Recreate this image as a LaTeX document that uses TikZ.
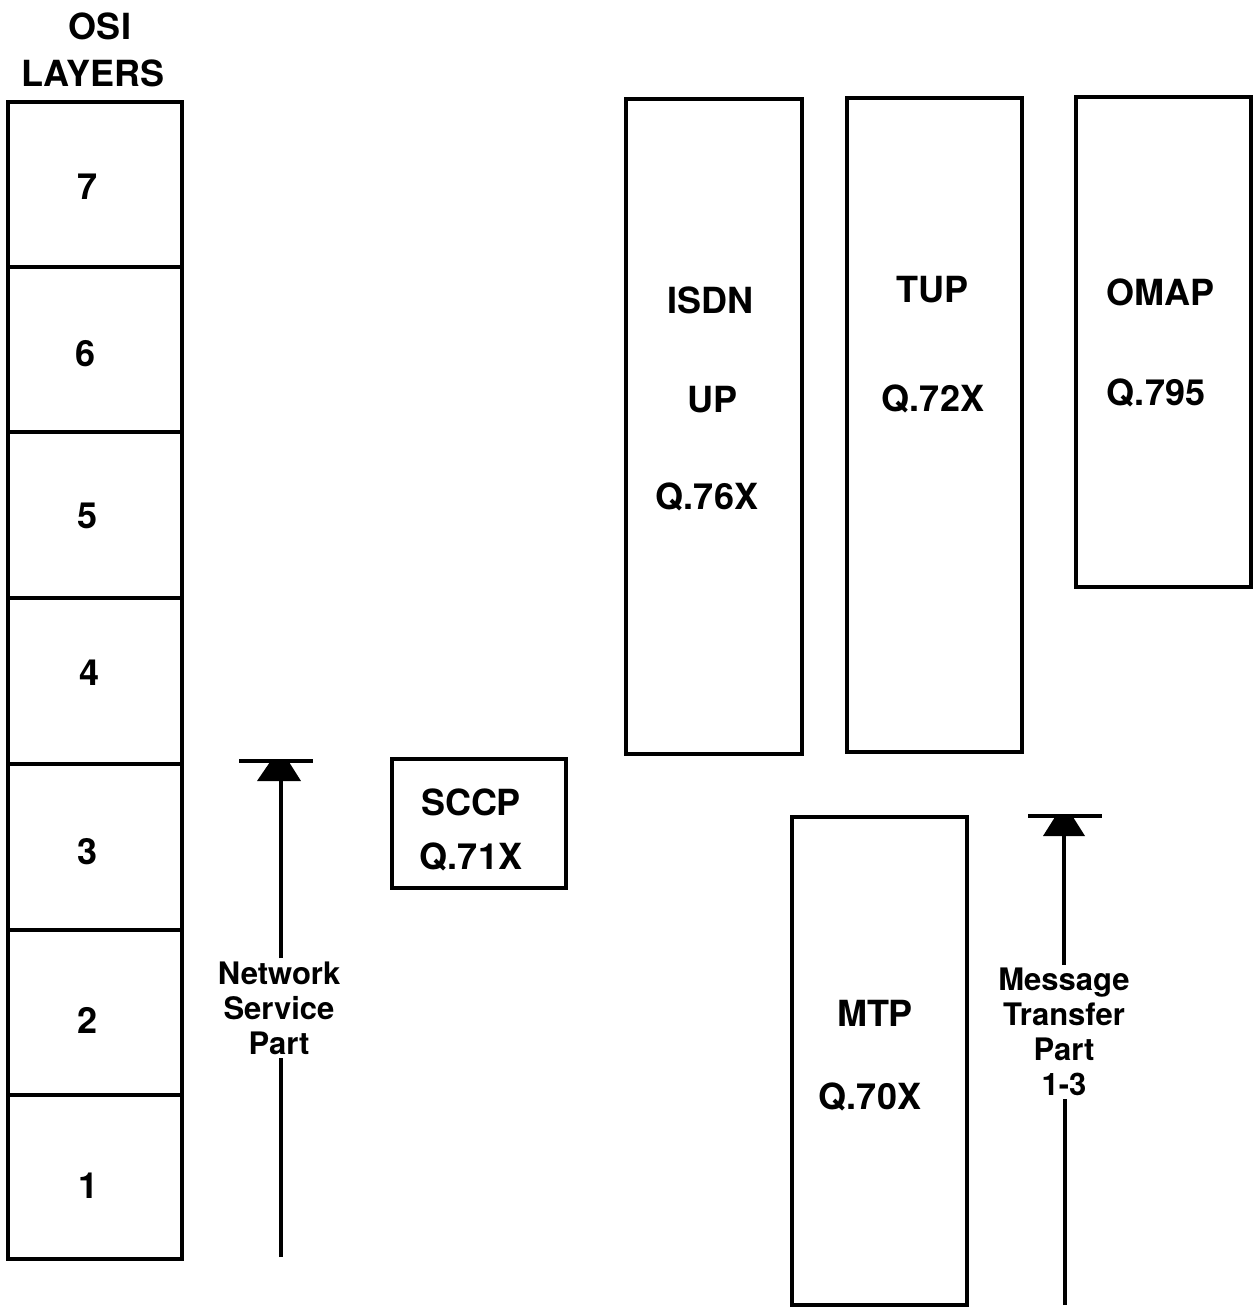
\documentclass[tikz,border=0pt]{standalone}
\usepackage{fontspec}
\setmainfont{TeX Gyre Heros}
\begin{document}
\begin{tikzpicture}[x=1pt,y=-1pt,
  box/.style={draw, line width=4.2pt, inner sep=0pt},
  big/.style={font=\fontsize{36}{40}\selectfont\bfseries, inner sep=0pt},
  small/.style={font=\fontsize{31}{35}\selectfont\bfseries, align=center, inner sep=3pt},
  shaft/.style={line width=4pt}]
\useasboundingbox (0,0) rectangle (1258,1308);
% header
\node[big] (osi) at (100,26) {OSI};
\node[big] (layers) at (93,73) {LAYERS};
% OSI layers
\foreach \n/\top/\bot in {7/100/265,6/265/430,5/430/596,4/596/762,3/762/928,2/928/1093,1/1093/1257}{
  \node[box, minimum width=174pt, minimum height={(\bot-\top)*1pt}, anchor=north] (L\n) at (95,\top) {};
}
\node[big] (t7) at (88,187) {7};
\node[big] (t6) at (86,354) {6};
\node[big] (t5) at (88,516) {5};
\node[big] (t4) at (90,673) {4};
\node[big] (t3) at (88,852) {3};
\node[big] (t2) at (88,1020) {2};
\node[big] (t1) at (89,1186) {1};
% SCCP
\node[box, minimum width=174pt, minimum height=129pt] (sccp) at (479,823.5) {};
\node[big] (sccpa) at (471,802) {SCCP};
\node[big] (sccpb) at (471,857) {Q.71X};
% ISDN UP
\node[box, minimum width=176pt, minimum height=655pt] (isdn) at (714,426.5) {};
\node[big] (isdna) at (710,300) {ISDN};
\node[big] (isdnb) at (712,400) {UP};
\node[big] (isdnc) at (707,497) {Q.76X};
% TUP
\node[box, minimum width=175pt, minimum height=654pt] (tup) at (934.5,425) {};
\node[big] (tupa) at (932,290) {TUP};
\node[big] (tupb) at (933,399) {Q.72X};
% OMAP
\node[box, minimum width=175pt, minimum height=490pt] (omap) at (1163.5,342) {};
\node[big] (omapa) at (1160,292) {OMAP};
\node[big] (omapb) at (1156,393) {Q.795};
% MTP
\node[box, minimum width=175pt, minimum height=488pt] (mtp) at (879.5,1061) {};
\node[big] (mtpa) at (875,1013) {MTP};
\node[big] (mtpb) at (870,1097) {Q.70X};
% Network Service Part arrow
\coordinate (nspbot) at (281,1257);
\coordinate (nsptop) at (281,761);
\node[small] (nsp) at (279,1008) {Network\\Service\\Part};
\draw[shaft] (nspbot) -- (nsp.south -| nspbot);
\draw[shaft] (nsp.north -| nspbot) -- (nsptop);
\draw[line width=4pt] ([xshift=-42pt]nsptop) -- ([xshift=32pt]nsptop);
\fill ([shift={(-11pt,-1pt)}]nsptop) -- ([shift={(8pt,-1pt)}]nsptop) -- ([shift={(20pt,-20pt)}]nsptop) -- ([shift={(-24pt,-20pt)}]nsptop) -- cycle;
% Message Transfer Part arrow
\coordinate (mtpbot) at (1065,1305);
\coordinate (mtptop) at (1064,816);
\node[small] (mtpl) at (1064,1032) {Message\\Transfer\\Part\\1-3};
\draw[shaft] (mtpbot) -- (mtpl.south -| mtpbot);
\draw[shaft] (mtpl.north -| mtptop) -- (mtptop);
\draw[line width=4pt] ([xshift=-36pt]mtptop) -- ([xshift=38pt]mtptop);
\fill ([shift={(-9pt,-1pt)}]mtptop) -- ([shift={(9pt,-1pt)}]mtptop) -- ([shift={(21pt,-20pt)}]mtptop) -- ([shift={(-21pt,-20pt)}]mtptop) -- cycle;
\end{tikzpicture}
\end{document}
